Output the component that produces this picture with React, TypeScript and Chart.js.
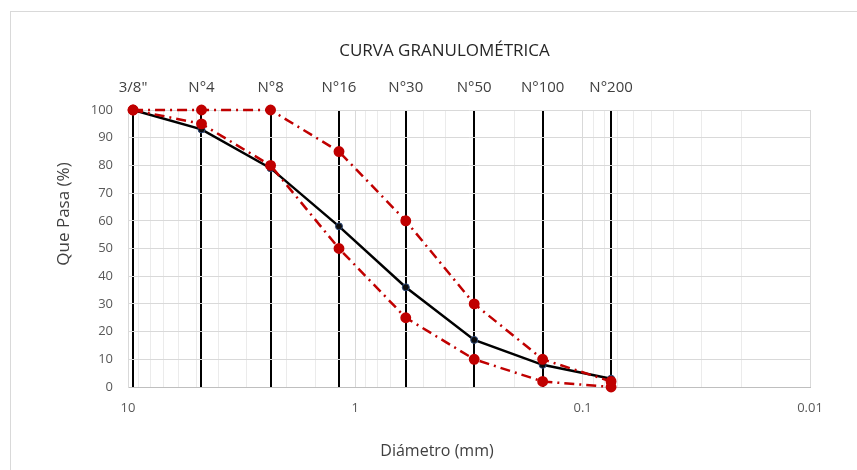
import React, { useEffect, useRef } from "react";
import { Chart, registerables } from "chart.js";

Chart.register(...registerables);

const sieveLabels = ['3/8"', "N°4", "N°8", "N°16", "N°30", "N°50", "N°100", "N°200"];
const sieveSizes = [9.5, 4.75, 2.36, 1.18, 0.6, 0.3, 0.15, 0.075];
const percentPassing = [100, 93, 79, 58, 36, 17, 8, 3];
const upperLimit = [100, 100, 100, 85, 60, 30, 10, 2];
const lowerLimit = [100, 95, 80, 50, 25, 10, 2, 0];
const xMin = 0.01;
const xMax = 10;

const FONT = "'Open Sans', 'Noto Sans', sans-serif";

function pts(vals: number[]) {
  return sieveSizes.map((x, i) => ({ x, y: vals[i] }));
}

const framePlugin = {
  id: "frame",
  beforeDraw(chart: any) {
    const ctx = chart.ctx;
    ctx.save();
    ctx.fillStyle = "#ffffff";
    ctx.fillRect(0, 0, chart.width, chart.height);
    ctx.strokeStyle = "#d9d9d9";
    ctx.lineWidth = 1;
    ctx.strokeRect(10.5, 11.5, chart.width + 20, chart.height + 20);
    ctx.restore();
  },
};

const axisTitlePlugin = {
  id: "axisTitles",
  afterDraw(chart: any) {
    const ctx = chart.ctx;
    ctx.save();
    ctx.fillStyle = "#404040";
    ctx.textAlign = "center";
    ctx.textBaseline = "middle";
    ctx.font = `16px ${FONT}`;
    ctx.fillText("Diámetro (mm)", 437, 451);
    ctx.font = `17px ${FONT}`;
    ctx.translate(64, 214);
    ctx.rotate(-Math.PI / 2);
    ctx.fillText("Que Pasa (%)", 0, 0);
    ctx.restore();
  },
};

export default function App() {
  const ref = useRef<HTMLCanvasElement | null>(null);
  useEffect(() => {
    document.body.style.margin = "0";
    const canvas = ref.current;
    if (!canvas) return;
    const isDecade = (v: number) => Math.abs(Math.log10(v) - Math.round(Math.log10(v))) < 1e-9;
    const chart = new Chart(canvas, {
      type: "line",
      data: {
        datasets: [
          {
            label: "Límite superior",
            data: pts(upperLimit),
            borderColor: "#c00000",
            backgroundColor: "#c00000",
            borderWidth: 2.5,
            borderDash: [10, 5, 2, 5],
            pointRadius: 4.2,
            pointBackgroundColor: "#c00000",
            pointBorderColor: "#c00000",
            tension: 0,
            clip: false,
            xAxisID: "x",
          },
          {
            label: "Límite inferior",
            data: pts(lowerLimit),
            borderColor: "#c00000",
            backgroundColor: "#c00000",
            borderWidth: 2.5,
            borderDash: [10, 5, 2, 5],
            pointRadius: 4.2,
            pointBackgroundColor: "#c00000",
            pointBorderColor: "#c00000",
            tension: 0,
            clip: false,
            xAxisID: "x",
          },
          {
            label: "Muestra",
            data: pts(percentPassing),
            borderColor: "#000000",
            backgroundColor: "#000000",
            borderWidth: 2.5,
            pointRadius: 3.5,
            pointBackgroundColor: "#0d0d0d",
            pointBorderColor: "#2f4b7c",
            pointBorderWidth: 1,
            tension: 0,
            clip: false,
            xAxisID: "x",
          },
        ],
      },
      options: {
        animation: false,
        responsive: false,
        devicePixelRatio: 1,
        layout: { padding: { left: 79, right: 47, top: 0, bottom: 0 } },
        plugins: {
          legend: { display: false },
          tooltip: { enabled: false },
          title: {
            display: true,
            text: "CURVA GRANULOMÉTRICA",
            color: "#262626",
            font: { family: FONT, size: 17, weight: "normal" },
            padding: { top: 40.8, bottom: 0.8 },
          },
        },
        scales: {
          x: {
            type: "logarithmic",
            position: "bottom",
            reverse: true,
            min: xMin,
            max: xMax,
            afterFit: (s: any) => {
              s.height = 83;
            },
            grid: {
              color: (c: any) => (c.tick && isDecade(c.tick.value) ? "#d9d9d9" : "#ebebeb"),
              lineWidth: 1,
              drawTicks: false,
            },
            border: { display: true, color: "#bfbfbf", width: 1 },
            ticks: {
              autoSkip: false,
              maxRotation: 0,
              padding: 13,
              color: "#595959",
              font: { family: FONT, size: 13 },
              callback: (v: any) => (isDecade(Number(v)) ? String(Number(Number(v).toPrecision(1))) : ""),
            },
          },
          x2: {
            type: "logarithmic",
            position: "top",
            reverse: true,
            min: xMin,
            max: xMax,
            afterBuildTicks: (s: any) => {
              s.ticks = sieveSizes.map((v) => ({ value: v }));
            },
            afterFit: (s: any) => {
              s.height = 48;
            },
            grid: { color: "#000000", lineWidth: 2, drawTicks: false },
            border: { display: false },
            ticks: {
              autoSkip: false,
              maxRotation: 0,
              padding: 13,
              color: "#404040",
              font: { family: FONT, size: 15 },
              callback: (_v: any, i: number) => sieveLabels[i],
            },
          },
          y: {
            type: "linear",
            min: 0,
            max: 100,
            afterFit: (s: any) => {
              s.width = 49;
            },
            grid: { color: "#d9d9d9", lineWidth: 1, drawTicks: false },
            border: { display: true, color: "#d9d9d9" },
            ticks: {
              stepSize: 10,
              padding: 15,
              color: "#595959",
              font: { family: FONT, size: 13 },
            },
          },
        },
      },
      plugins: [framePlugin, axisTitlePlugin],
    } as any);
    return () => chart.destroy();
  }, []);
  return (
    <div style={{ width: 857, height: 470 }}>
      <canvas ref={ref} width={857} height={470} style={{ display: "block" }} />
    </div>
  );
}
